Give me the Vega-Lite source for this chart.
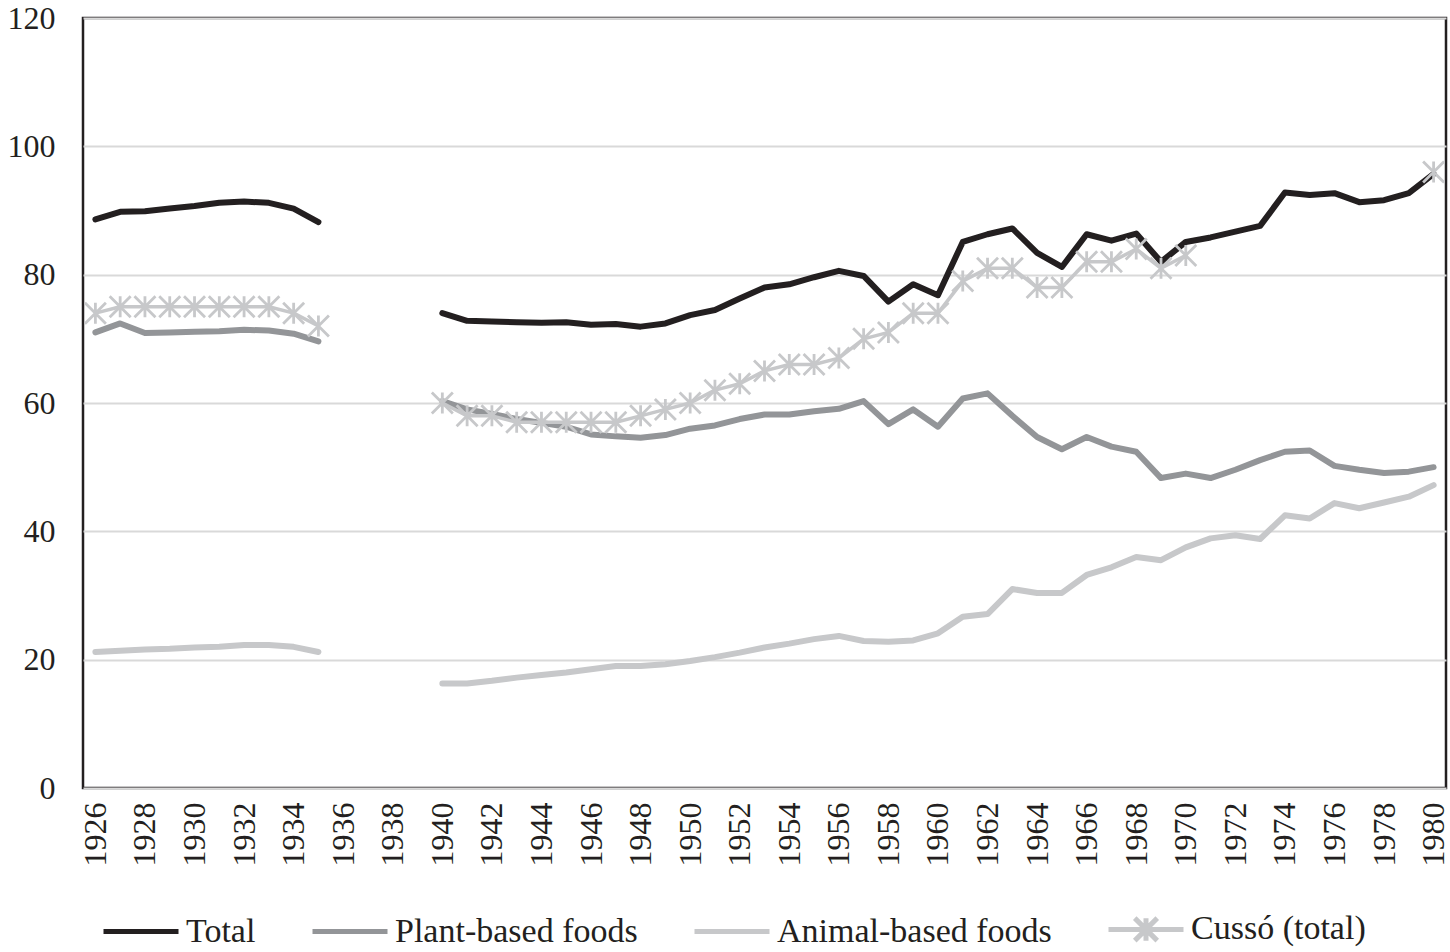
{
  "$schema": "https://vega.github.io/schema/vega-lite/v6.json",
  "width": 1363,
  "height": 770,
  "autosize": {"type": "none"},
  "padding": {"left": 83, "top": 18, "right": 4, "bottom": 164},
  "background": "white",
  "config": {
    "font": "Liberation Serif",
    "view": {"stroke": "#231f20", "strokeWidth": 2.5},
    "axis": {"labelFont": "Liberation Serif", "labelColor": "#231f20", "domain": false, "ticks": false, "title": null},
    "legend": {
      "title": null,
      "labelFont": "Liberation Serif",
      "labelFontSize": 34,
      "labelColor": "#231f20",
      "symbolType": "stroke",
      "symbolSize": 5625,
      "symbolStrokeWidth": 5,
      "columnPadding": 46,
      "labelOffset": 5,
      "labelLimit": 600
    }
  },
  "data": {
    "values": [
      {"year": 1926, "seg": "pre", "cseg": "pre", "Total": 88.6, "Plant-based foods": 71.0, "Animal-based foods": 21.2, "Cussó (total)": 74},
      {"year": 1927, "seg": "pre", "cseg": "pre", "Total": 89.8, "Plant-based foods": 72.4, "Animal-based foods": 21.4, "Cussó (total)": 75},
      {"year": 1928, "seg": "pre", "cseg": "pre", "Total": 89.9, "Plant-based foods": 70.9, "Animal-based foods": 21.6, "Cussó (total)": 75},
      {"year": 1929, "seg": "pre", "cseg": "pre", "Total": 90.3, "Plant-based foods": 71.0, "Animal-based foods": 21.7, "Cussó (total)": 75},
      {"year": 1930, "seg": "pre", "cseg": "pre", "Total": 90.7, "Plant-based foods": 71.1, "Animal-based foods": 21.9, "Cussó (total)": 75},
      {"year": 1931, "seg": "pre", "cseg": "pre", "Total": 91.2, "Plant-based foods": 71.2, "Animal-based foods": 22.0, "Cussó (total)": 75},
      {"year": 1932, "seg": "pre", "cseg": "pre", "Total": 91.4, "Plant-based foods": 71.4, "Animal-based foods": 22.3, "Cussó (total)": 75},
      {"year": 1933, "seg": "pre", "cseg": "pre", "Total": 91.2, "Plant-based foods": 71.3, "Animal-based foods": 22.3, "Cussó (total)": 75},
      {"year": 1934, "seg": "pre", "cseg": "pre", "Total": 90.3, "Plant-based foods": 70.8, "Animal-based foods": 22.0, "Cussó (total)": 74},
      {"year": 1935, "seg": "pre", "cseg": "pre", "Total": 88.2, "Plant-based foods": 69.6, "Animal-based foods": 21.2, "Cussó (total)": 72},
      {"year": 1940, "seg": "post", "cseg": "post", "Total": 74.0, "Plant-based foods": 60.3, "Animal-based foods": 16.3, "Cussó (total)": 60},
      {"year": 1941, "seg": "post", "cseg": "post", "Total": 72.8, "Plant-based foods": 59.0, "Animal-based foods": 16.3, "Cussó (total)": 58},
      {"year": 1942, "seg": "post", "cseg": "post", "Total": 72.7, "Plant-based foods": 58.3, "Animal-based foods": 16.7, "Cussó (total)": 58},
      {"year": 1943, "seg": "post", "cseg": "post", "Total": 72.6, "Plant-based foods": 57.5, "Animal-based foods": 17.2, "Cussó (total)": 57},
      {"year": 1944, "seg": "post", "cseg": "post", "Total": 72.5, "Plant-based foods": 56.9, "Animal-based foods": 17.6, "Cussó (total)": 57},
      {"year": 1945, "seg": "post", "cseg": "post", "Total": 72.6, "Plant-based foods": 56.3, "Animal-based foods": 18.0, "Cussó (total)": 57},
      {"year": 1946, "seg": "post", "cseg": "post", "Total": 72.2, "Plant-based foods": 55.1, "Animal-based foods": 18.5, "Cussó (total)": 57},
      {"year": 1947, "seg": "post", "cseg": "post", "Total": 72.3, "Plant-based foods": 54.8, "Animal-based foods": 19.0, "Cussó (total)": 57},
      {"year": 1948, "seg": "post", "cseg": "post", "Total": 71.9, "Plant-based foods": 54.6, "Animal-based foods": 19.0, "Cussó (total)": 58},
      {"year": 1949, "seg": "post", "cseg": "post", "Total": 72.4, "Plant-based foods": 55.0, "Animal-based foods": 19.3, "Cussó (total)": 59},
      {"year": 1950, "seg": "post", "cseg": "post", "Total": 73.7, "Plant-based foods": 56.0, "Animal-based foods": 19.8, "Cussó (total)": 60},
      {"year": 1951, "seg": "post", "cseg": "post", "Total": 74.5, "Plant-based foods": 56.5, "Animal-based foods": 20.4, "Cussó (total)": 62},
      {"year": 1952, "seg": "post", "cseg": "post", "Total": 76.3, "Plant-based foods": 57.5, "Animal-based foods": 21.1, "Cussó (total)": 63},
      {"year": 1953, "seg": "post", "cseg": "post", "Total": 78.0, "Plant-based foods": 58.2, "Animal-based foods": 21.9, "Cussó (total)": 65},
      {"year": 1954, "seg": "post", "cseg": "post", "Total": 78.5, "Plant-based foods": 58.2, "Animal-based foods": 22.5, "Cussó (total)": 66},
      {"year": 1955, "seg": "post", "cseg": "post", "Total": 79.6, "Plant-based foods": 58.7, "Animal-based foods": 23.2, "Cussó (total)": 66},
      {"year": 1956, "seg": "post", "cseg": "post", "Total": 80.6, "Plant-based foods": 59.1, "Animal-based foods": 23.7, "Cussó (total)": 67},
      {"year": 1957, "seg": "post", "cseg": "post", "Total": 79.8, "Plant-based foods": 60.3, "Animal-based foods": 22.9, "Cussó (total)": 70},
      {"year": 1958, "seg": "post", "cseg": "post", "Total": 75.8, "Plant-based foods": 56.7, "Animal-based foods": 22.8, "Cussó (total)": 71},
      {"year": 1959, "seg": "post", "cseg": "post", "Total": 78.5, "Plant-based foods": 59.0, "Animal-based foods": 23.0, "Cussó (total)": 74},
      {"year": 1960, "seg": "post", "cseg": "post", "Total": 76.8, "Plant-based foods": 56.3, "Animal-based foods": 24.1, "Cussó (total)": 74},
      {"year": 1961, "seg": "post", "cseg": "post", "Total": 85.1, "Plant-based foods": 60.7, "Animal-based foods": 26.7, "Cussó (total)": 79},
      {"year": 1962, "seg": "post", "cseg": "post", "Total": 86.3, "Plant-based foods": 61.5, "Animal-based foods": 27.1, "Cussó (total)": 81},
      {"year": 1963, "seg": "post", "cseg": "post", "Total": 87.2, "Plant-based foods": 58.0, "Animal-based foods": 31.0, "Cussó (total)": 81},
      {"year": 1964, "seg": "post", "cseg": "post", "Total": 83.4, "Plant-based foods": 54.7, "Animal-based foods": 30.4, "Cussó (total)": 78},
      {"year": 1965, "seg": "post", "cseg": "post", "Total": 81.2, "Plant-based foods": 52.8, "Animal-based foods": 30.4, "Cussó (total)": 78},
      {"year": 1966, "seg": "post", "cseg": "post", "Total": 86.3, "Plant-based foods": 54.7, "Animal-based foods": 33.2, "Cussó (total)": 82},
      {"year": 1967, "seg": "post", "cseg": "post", "Total": 85.3, "Plant-based foods": 53.2, "Animal-based foods": 34.4, "Cussó (total)": 82},
      {"year": 1968, "seg": "post", "cseg": "post", "Total": 86.4, "Plant-based foods": 52.4, "Animal-based foods": 36.0, "Cussó (total)": 84},
      {"year": 1969, "seg": "post", "cseg": "post", "Total": 82.0, "Plant-based foods": 48.3, "Animal-based foods": 35.5, "Cussó (total)": 81},
      {"year": 1970, "seg": "post", "cseg": "post", "Total": 85.1, "Plant-based foods": 49.0, "Animal-based foods": 37.5, "Cussó (total)": 83},
      {"year": 1971, "seg": "post", "cseg": "late", "Total": 85.8, "Plant-based foods": 48.3, "Animal-based foods": 38.9, "Cussó (total)": null},
      {"year": 1972, "seg": "post", "cseg": "late", "Total": 86.7, "Plant-based foods": 49.6, "Animal-based foods": 39.4, "Cussó (total)": null},
      {"year": 1973, "seg": "post", "cseg": "late", "Total": 87.6, "Plant-based foods": 51.1, "Animal-based foods": 38.8, "Cussó (total)": null},
      {"year": 1974, "seg": "post", "cseg": "late", "Total": 92.8, "Plant-based foods": 52.4, "Animal-based foods": 42.5, "Cussó (total)": null},
      {"year": 1975, "seg": "post", "cseg": "late", "Total": 92.4, "Plant-based foods": 52.6, "Animal-based foods": 42.0, "Cussó (total)": null},
      {"year": 1976, "seg": "post", "cseg": "late", "Total": 92.7, "Plant-based foods": 50.2, "Animal-based foods": 44.4, "Cussó (total)": null},
      {"year": 1977, "seg": "post", "cseg": "late", "Total": 91.3, "Plant-based foods": 49.6, "Animal-based foods": 43.6, "Cussó (total)": null},
      {"year": 1978, "seg": "post", "cseg": "late", "Total": 91.6, "Plant-based foods": 49.1, "Animal-based foods": 44.5, "Cussó (total)": null},
      {"year": 1979, "seg": "post", "cseg": "late", "Total": 92.7, "Plant-based foods": 49.3, "Animal-based foods": 45.4, "Cussó (total)": null},
      {"year": 1980, "seg": "post", "cseg": "late", "Total": 95.7, "Plant-based foods": 50.0, "Animal-based foods": 47.2, "Cussó (total)": 96}
    ]
  },
  "transform": [
    {"fold": ["Total", "Plant-based foods", "Animal-based foods", "Cussó (total)"], "as": ["series", "value"]},
    {"filter": "isValid(datum.value)"}
  ],
  "encoding": {
    "x": {
      "field": "year",
      "type": "quantitative",
      "scale": {"domain": [1925.5, 1980.5], "nice": false, "zero": false},
      "axis": {
        "values": [1926, 1928, 1930, 1932, 1934, 1936, 1938, 1940, 1942, 1944, 1946, 1948, 1950, 1952, 1954, 1956, 1958, 1960, 1962, 1964, 1966, 1968, 1970, 1972, 1974, 1976, 1978, 1980],
        "format": "d",
        "labelAngle": 270,
        "labelAlign": "right",
        "labelBaseline": "middle",
        "labelFontSize": 32,
        "labelPadding": 14,
        "labelFlush": false,
        "labelOverlap": false,
        "grid": false
      }
    },
    "y": {
      "field": "value",
      "type": "quantitative",
      "scale": {"domain": [0, 120], "nice": false},
      "axis": {
        "values": [0, 20, 40, 60, 80, 100, 120],
        "labelFontSize": 32,
        "labelPadding": 28,
        "grid": true,
        "gridColor": "#d9d9d9",
        "gridWidth": 2
      }
    }
  },
  "layer": [
    {
      "transform": [{"filter": "datum.series !== 'Cussó (total)'"}],
      "mark": {"type": "line", "strokeWidth": 6, "strokeCap": "round", "strokeJoin": "round"},
      "encoding": {
        "detail": {"field": "seg", "type": "nominal"},
        "color": {
          "field": "series",
          "type": "nominal",
          "scale": {
            "domain": ["Total", "Plant-based foods", "Animal-based foods", "Cussó (total)"],
            "range": ["#231f20", "#939598", "#c7c8ca", "#c7c8ca"]
          },
          "legend": {
            "orient": "none",
            "legendX": 18,
            "legendY": 871,
            "direction": "horizontal"
          }
        }
      }
    },
    {
      "transform": [{"filter": "datum.series === 'Cussó (total)'"}],
      "mark": {"type": "line", "strokeWidth": 3.5, "strokeCap": "round", "strokeJoin": "round"},
      "encoding": {
        "detail": {"field": "cseg", "type": "nominal"},
        "color": {"field": "series", "type": "nominal"}
      }
    },
    {
      "transform": [{"filter": "datum.series === 'Cussó (total)'"}],
      "mark": {"type": "point", "shape": "M0,-1L0,1M-1,-1L1,1M-1,1L1,-1", "size": 441, "filled": false, "stroke": "#c7c8ca", "strokeWidth": 2.8, "opacity": 1}
    },
    {
      "transform": [{"filter": "datum.series === 'none'"}],
      "mark": {"type": "point", "filled": false, "strokeWidth": 5.5, "opacity": 1},
      "encoding": {
        "color": {"field": "series", "type": "nominal"},
        "shape": {
          "field": "series",
          "type": "nominal",
          "scale": {
            "domain": ["Total", "Plant-based foods", "Animal-based foods", "Cussó (total)"],
            "range": ["stroke", "stroke", "stroke", "M-1,0L1,0M0,-0.3L0,0.3M-0.3,-0.3L0.3,0.3M-0.3,0.3L0.3,-0.3"]
          }
        }
      }
    }
  ]
}
